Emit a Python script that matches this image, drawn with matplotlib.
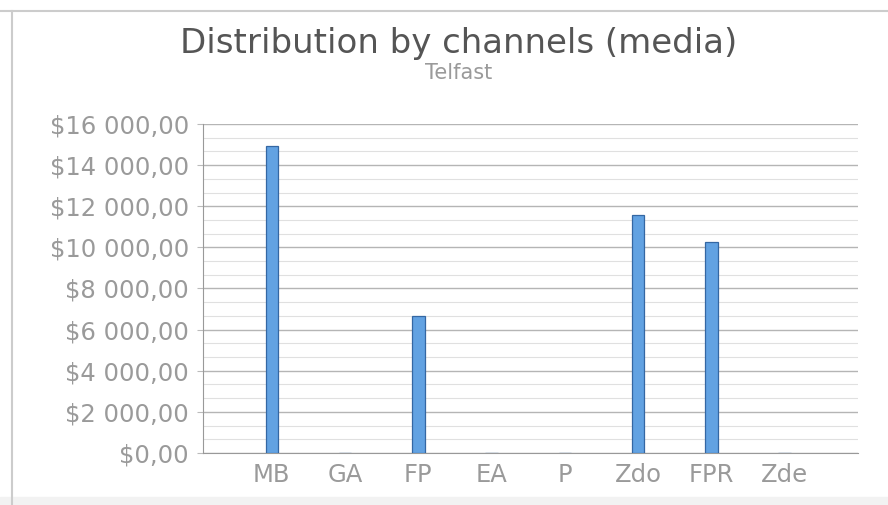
import matplotlib.pyplot as plt
from matplotlib.ticker import MultipleLocator, FuncFormatter
from matplotlib.lines import Line2D
from matplotlib.patches import Rectangle

# Channel spend
channels = ['MB', 'GA', 'FP', 'EA', 'P', 'Zdo', 'FPR', 'Zde']
spend = [14950, 0, 6680, 0, 0, 11580, 10250, 0]

title = 'Distribution by channels (media)'
subtitle = 'Telfast'


def money(v, pos):
    s = f'{v:,.2f}'
    whole, frac = s.split('.')
    return '$' + whole.replace(',', ' ') + ',' + frac


fig = plt.figure(figsize=(8.88, 5.05), dpi=100)
ax = fig.add_axes([0.2286, 0.103, 0.7376, 0.6515])

x = range(len(channels))
ax.bar(x, spend, width=0.17, color='#62a2e2', edgecolor='#3467a3', linewidth=0.9, zorder=3)

ax.set_xlim(-0.94, 8.0)
ax.set_ylim(0, 16000)
ax.set_xticks(list(x))
ax.set_xticklabels(channels)
ax.yaxis.set_major_locator(MultipleLocator(2000))
ax.yaxis.set_minor_locator(MultipleLocator(2000 / 3))
ax.yaxis.set_major_formatter(FuncFormatter(money))

ax.grid(axis='y', which='major', color='#b5b5b5', linewidth=1.0, zorder=0)
ax.grid(axis='y', which='minor', color='#e0e0e0', linewidth=0.8, zorder=0)

for side in ['top', 'right']:
    ax.spines[side].set_visible(False)
ax.spines['left'].set_color('#999999')
ax.spines['bottom'].set_color('#999999')

ax.tick_params(axis='y', which='major', length=4, color='#bbbbbb', labelsize=17.5, labelcolor='#9a9a9a', pad=6)
ax.tick_params(axis='y', which='minor', length=0)
ax.tick_params(axis='x', length=0, labelsize=17.5, labelcolor='#9a9a9a', pad=7)

fig.text(0.516, 0.895, title, ha='center', va='baseline', fontsize=24.5, color='#555555')
fig.text(0.516, 0.8436, subtitle, ha='center', va='baseline', fontsize=15, color='#9a9a9a')

# outer frame of the widget
fig.add_artist(Rectangle((0, 0), 1, 0.016, transform=fig.transFigure, color='#f2f2f2', zorder=0))
fig.add_artist(Line2D([0, 1], [0.978, 0.978], transform=fig.transFigure, color='#cccccc', linewidth=1.5))
fig.add_artist(Line2D([0.0135, 0.0135], [0, 0.978], transform=fig.transFigure, color='#cccccc', linewidth=1.5))

fig.savefig('out.png', dpi=100)
